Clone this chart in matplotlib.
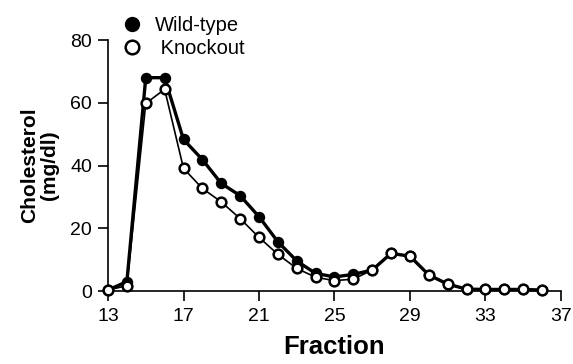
import matplotlib.pyplot as plt

plt.rcParams['font.family'] = ['Liberation Sans', 'DejaVu Sans']

# 数据：各组分胆固醇含量
fractions = list(range(13, 37))
wild_type = [0.3, 3.0, 68, 68, 48.3, 41.9, 34.3, 30.4, 23.7, 15.7, 9.6, 5.6,
             4.5, 5.3, 6.7, 12.0, 11.1, 5.1, 2.2, 0.6, 0.5, 0.5, 0.5, 0.3]
knockout = [0.3, 1.7, 59.8, 64.3, 39.1, 32.7, 28.4, 23.1, 17.1, 11.7, 7.2, 4.4,
            3.3, 3.8, 6.7, 12.0, 11.1, 5.1, 2.2, 0.6, 0.5, 0.5, 0.5, 0.3]
x_ticks = [13, 17, 21, 25, 29, 33, 37]
y_ticks = [0, 20, 40, 60, 80]

fig = plt.figure(figsize=(5.73, 3.64), dpi=100)
ax = fig.add_axes([0.1885, 0.2005, 0.7905, 0.6895])

ax.plot(fractions, wild_type, color='black', lw=2.4, marker='o', ms=7,
        mfc='black', mec='black', mew=1.2, clip_on=False, label='Wild-type', zorder=3)
ax.plot(fractions, knockout, color='black', lw=1.2, marker='o', ms=7,
        mfc='white', mec='black', mew=1.8, clip_on=False, label=' Knockout', zorder=4)

ax.set_xlim(13, 37)
ax.set_ylim(0, 80)
ax.set_xticks(x_ticks)
ax.set_yticks(y_ticks)
ax.tick_params(direction='out', length=7.5, width=1.2, labelsize=14)
ax.tick_params(axis='x', pad=5)
ax.tick_params(axis='y', pad=4)
ax.spines['top'].set_visible(False)
ax.spines['right'].set_visible(False)
ax.spines['left'].set_linewidth(1.2)
ax.spines['bottom'].set_linewidth(1.2)

ax.set_xlabel('Fraction', fontsize=18.5, fontweight='bold', labelpad=7)
ax.set_ylabel('Cholesterol\n(mg/dl)', fontsize=15, fontweight='bold', labelpad=8,
              linespacing=1.05)

fig.legend(loc='upper left', bbox_to_anchor=(0.209, 0.99), frameon=False,
           fontsize=14.5, handlelength=0, handletextpad=1.14, borderaxespad=0.2,
           labelspacing=0.2, markerscale=1.4)

fig.savefig('out.png', dpi=100)
